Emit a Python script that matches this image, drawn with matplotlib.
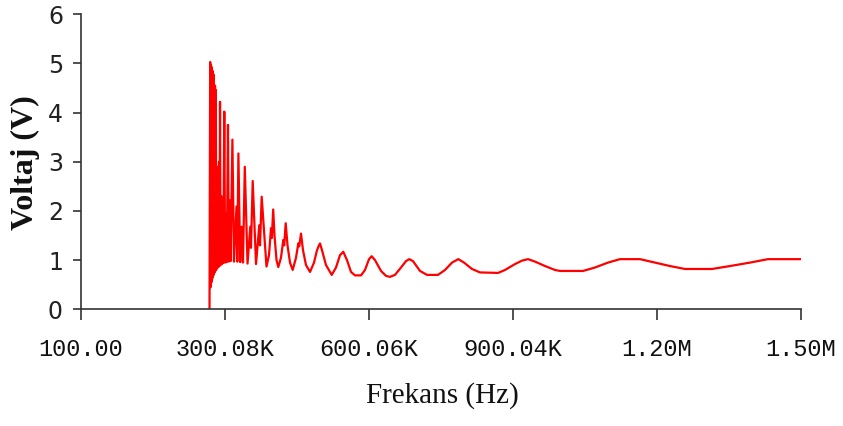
import matplotlib
matplotlib.use("Agg")
import matplotlib.pyplot as plt

# frequency (kHz) and voltage (V)
freq_khz = [
    267.8, 269.2, 270.1, 270.9, 271.8, 272.6, 273.4, 274.3, 275.1, 275.9,
    276.8, 277.6, 278.4, 279.3, 280.1, 280.9, 282.0, 283.0, 284.0, 285.3,
    286.3, 287.6, 288.6, 289.7, 290.9, 292.4, 293.8, 295.3, 296.5, 298.6,
    300.3, 302.2, 303.8, 306.3, 308.0, 309.5, 311.8, 315.5, 318.8, 324.0,
    325.7, 328.0, 331.7, 334.9, 337.6, 341.3, 347.0, 352.8, 354.2, 357.8,
    364.7, 371.5, 373.0, 376.5, 386.5, 391.7, 395.9, 397.6, 400.5, 403.2,
    407.4, 411.1, 416.7, 421.5, 423.4, 426.5, 430.3, 435.5, 441.1, 448.0,
    452.8, 454.7, 458.4, 462.6, 468.8, 477.2, 485.5, 491.7, 494.9, 498.0,
    502.2, 510.5, 522.4, 531.3, 539.6, 546.5, 554.2, 562.6, 570.9, 583.4,
    591.7, 600.1, 605.7, 612.6, 625.1, 635.5, 643.8, 654.2, 666.7, 677.1,
    684.0, 691.7, 706.3, 720.9, 743.8, 758.4, 773.0, 786.1, 798.0, 814.6,
    831.3, 868.8, 883.4, 904.2, 918.8, 931.3, 945.9, 966.7, 987.5, 998.0,
    1045.9, 1070.9, 1097.9, 1122.9, 1164.6, 1195.9, 1227.1, 1258.4, 1314.6, 1352.1,
    1393.8, 1431.3, 1497.9,
]
voltage = [
    0.00, 5.03, 0.45, 4.97, 0.55, 4.92, 0.62, 4.85, 0.67, 4.78,
    0.71, 3.20, 0.75, 4.55, 0.78, 4.46, 0.81, 2.90, 0.84, 2.45,
    0.86, 3.00, 0.88, 4.22, 0.90, 2.30, 0.92, 1.90, 0.94, 4.02,
    0.95, 1.95, 0.96, 3.75, 0.97, 2.22, 0.98, 3.45, 0.97, 2.09,
    0.97, 3.17, 0.96, 1.68, 0.95, 2.90, 0.93, 1.68, 1.25, 2.61,
    0.92, 1.71, 1.30, 2.29, 0.87, 1.10, 1.65, 1.45, 2.03, 1.50,
    1.00, 0.86, 1.05, 1.41, 1.30, 1.75, 1.30, 0.95, 0.80, 1.05,
    1.34, 1.28, 1.54, 1.20, 0.90, 0.76, 0.95, 1.20, 1.28, 1.34,
    1.20, 0.90, 0.70, 0.85, 1.10, 1.17, 1.00, 0.76, 0.69, 0.69,
    0.80, 1.02, 1.08, 1.00, 0.78, 0.68, 0.66, 0.70, 0.85, 0.98,
    1.02, 0.98, 0.78, 0.70, 0.70, 0.80, 0.95, 1.02, 0.95, 0.82,
    0.75, 0.74, 0.80, 0.92, 0.99, 1.02, 0.97, 0.88, 0.80, 0.78,
    0.78, 0.85, 0.95, 1.02, 1.02, 0.95, 0.88, 0.82, 0.82, 0.88,
    0.95, 1.02, 1.02,
]

x_ticks = [100, 300080, 600060, 900040, 1200000, 1500000]
x_labels = ["100.00", "300.08K", "600.06K", "900.04K", "1.20M", "1.50M"]
y_ticks = [0, 1, 2, 3, 4, 5, 6]

fig = plt.figure(figsize=(8.43, 4.26), dpi=100)
ax = fig.add_axes([81 / 843, 116.7 / 426, 720 / 843, 295 / 426])

freq_hz = [f * 1000 for f in freq_khz]
ax.plot(freq_hz, voltage, color="#ff0000", lw=1.6)

ax.set_xlim(100, 1500000)
ax.set_ylim(0, 6)
ax.set_xticks(x_ticks)
ax.set_xticklabels(x_labels, family="Liberation Mono", fontsize=17, color="#111111")
ax.set_yticks(y_ticks)
ax.set_yticklabels([str(v) for v in y_ticks], family="DejaVu Sans", fontsize=17, color="#222222")

for s in ["top", "right"]:
    ax.spines[s].set_visible(False)
for s in ["left", "bottom"]:
    ax.spines[s].set_color("#333333")
    ax.spines[s].set_linewidth(1.2)

ax.tick_params(axis="x", direction="out", length=8, width=1.2, color="#333333", pad=13)
ax.tick_params(axis="y", direction="out", length=6, width=1.2, color="#333333", pad=7)

fig.text(442 / 843, 1 - 396 / 426, "Frekans (Hz)", family="Liberation Serif",
         fontsize=21, ha="center", va="center", color="#111111")
fig.text(25 / 843, 1 - 163 / 426, "Voltaj (V)", family="Liberation Serif",
         fontsize=23, fontweight="bold", rotation=90, ha="center", va="center",
         color="#111111")

fig.savefig("out.png", dpi=100)
